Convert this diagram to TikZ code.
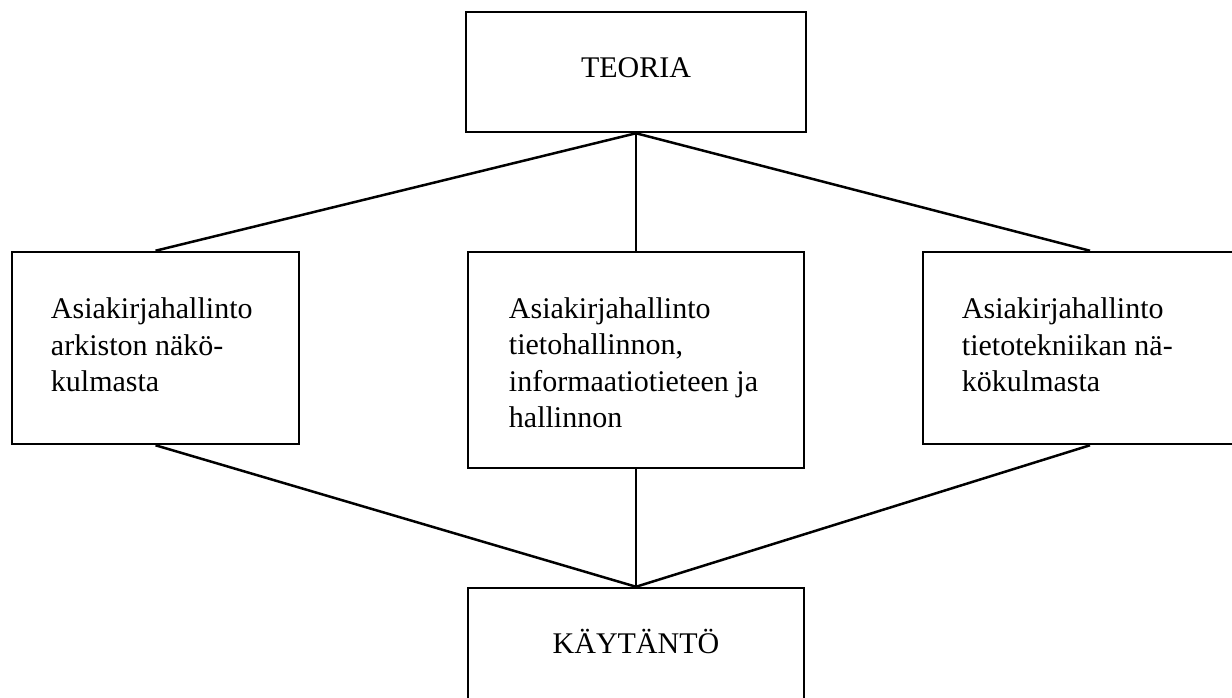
\documentclass[tikz,border=0pt]{standalone}
\usepackage{fontspec}
\setmainfont{Liberation Serif}
\begin{document}
\begin{tikzpicture}[x=1pt,y=-1pt,
  box/.style={draw, line width=2.5pt, inner sep=0pt},
  capbox/.style={box, minimum width=340pt, minimum height=120pt,
    text height=20pt, text depth=10pt, font=\fontsize{30}{36.5}\selectfont},
  txt/.style={inner sep=0pt, align=left, font=\fontsize{30}{36.5}\selectfont},
  link/.style={line width=2.5pt}]
\useasboundingbox (0,0) rectangle (1232,697);
\clip (0,0) rectangle (1232,697);
\node[capbox] (tb) at (636,72) {TEORIA};
\node[box, minimum width=287pt, minimum height=192pt] (lb) at (155.5,348) {};
\node[box, minimum width=336pt, minimum height=216pt] (mb) at (636,360) {};
\node[box, minimum width=334pt, minimum height=192pt] (rb) at (1090,348) {};
\node[capbox, minimum width=336pt] (kb) at (636,648) {KÄYTÄNTÖ};
\node[txt, anchor=west] (lt) at ([xshift=40pt,yshift=3pt]lb.west)
  {Asiakirjahallinto\\arkiston näkö-\\kulmasta};
\node[txt, anchor=west] (mt) at ([xshift=42pt,yshift=-2.5pt]mb.west)
  {Asiakirjahallinto\\tietohallinnon,\\informaatiotieteen ja\\hallinnon};
\node[txt, anchor=west] (rt) at ([xshift=40pt,yshift=3pt]rb.west)
  {Asiakirjahallinto\\tietotekniikan nä-\\kökulmasta};
\draw[link] (tb.south) -- (lb.north);
\draw[link] (tb.south) -- (mb.north);
\draw[link] (tb.south) -- (rb.north);
\draw[link] (lb.south) -- (kb.north);
\draw[link] (mb.south) -- (kb.north);
\draw[link] (rb.south) -- (kb.north);
\end{tikzpicture}
\end{document}
